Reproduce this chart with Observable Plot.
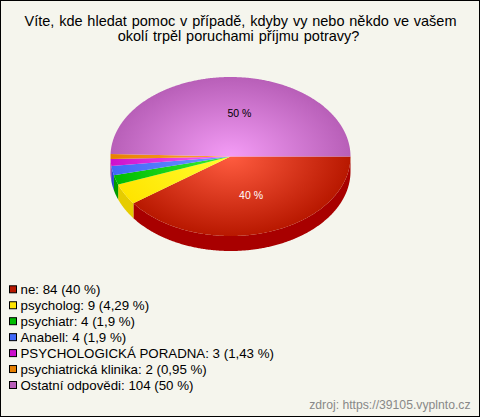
<!DOCTYPE html>
<html><head><meta charset="utf-8">
<script src="https://cdn.jsdelivr.net/npm/d3@7"></script>
<script src="https://cdn.jsdelivr.net/npm/@observablehq/plot@0.6"></script>
<style>html,body{margin:0;padding:0;background:#f5f5ed}svg{display:block}.ttl text{word-spacing:0.8px}</style>
</head><body><div id="chart"></div>
<script>
const categories = ["ne","psycholog","psychiatr","Anabell","PSYCHOLOGICKÁ PORADNA","psychiatrická klinika","Ostatní odpovědi"];
const counts = [84,9,4,4,3,2,104];
const percents = ["40","4,29","1,9","1,9","1,43","0,95","50"];
const faceOuter = ["#b81800","#ffe400","#00bc00","#4068f8","#cc10cc","#e88000","#b85fb8"];
const faceInner = ["#ff5c40","#ffff30","#38f038","#7098ff","#f868f8","#ffa838","#f49cf6"];
const sideColors = ["#a80000","#e6cc00","#009c00","#2848d0","#a000a0","#c06000","#8a4a8a"];
const titleLines = ["Víte, kde hledat pomoc v případě, kdyby vy nebo někdo ve vašem","okolí trpěl poruchami příjmu potravy?"];
const sliceLabels = [{text:"40 %",slice:0},{text:"50 %",slice:6}];
const sourceText = "zdroj: https://39105.vyplnto.cz";

const W=480,H=417,cx=230,cy=156,rx=120,ry=79.5,depth=15;
const font="'Liberation Sans',Arial,sans-serif";
const total=d3.sum(counts);
let acc=0;
const slices=counts.map((v,i)=>{const a0=acc/total*2*Math.PI;acc+=v;return {i,a0,a1:acc/total*2*Math.PI,v};});
const px=a=>cx+rx*Math.cos(a), py=a=>cy+ry*Math.sin(a);
const arcAngles=(a0,a1)=>{const n=Math.max(2,Math.ceil((a1-a0)*120));return d3.range(n+1).map(k=>a0+(a1-a0)*k/n);};
const facePts=s=>[{x:cx,y:cy},...arcAngles(s.a0,s.a1).map(a=>({x:px(a),y:py(a)}))];
const sidePts=s=>{const a1=Math.min(s.a1,Math.PI);if(s.a0>=a1)return null;const A=arcAngles(s.a0,a1);
  return [...A.map(a=>({x:px(a),y:py(a)})),...A.slice().reverse().map(a=>({x:px(a),y:py(a)+depth}))];};

const defs=(index,{x,y})=>{
  const d=d3.create("svg:defs");
  faceOuter.forEach((c,i)=>{
    const g=d.append("radialGradient").attr("id","g"+i).attr("gradientUnits","userSpaceOnUse")
      .attr("cx",0).attr("cy",0).attr("r",1)
      .attr("gradientTransform",`translate(${x(cx)},${y(cy)}) scale(${rx},${ry})`);
    g.append("stop").attr("offset",0).attr("stop-color",faceInner[i]);
    g.append("stop").attr("offset",1).attr("stop-color",c);
  });
  return d.node();
};

const marks=[defs];
slices.forEach(s=>{const p=sidePts(s);if(p)marks.push(Plot.line(p,{x:"x",y:"y",fill:sideColors[s.i],stroke:"none"}));});
slices.forEach(s=>marks.push(Plot.line(facePts(s),{x:"x",y:"y",fill:`url(#g${s.i})`,stroke:"none"})));
const mid=s=>(s.a0+s.a1)/2;
marks.push(Plot.text(sliceLabels,{
  x:d=>cx+rx*0.5*Math.cos(mid(slices[d.slice]))+(d.slice?8:2),
  y:d=>cy+ry*0.5*Math.sin(mid(slices[d.slice]))+(d.slice?-3:1),
  text:"text",fill:d=>d.slice?"#000":"#fff",fontSize:10.5,fontFamily:font}));
marks.push(Plot.text(titleLines,{x:(d,i)=>i?238:240,y:(d,i)=>20.7+i*15,text:d=>d,fontSize:14.5,fontFamily:font,fill:"#000",className:"ttl"}));
const rows=categories.map((c,i)=>({c,i,t:`${c}: ${counts[i]} (${percents[i]} %)`}));
const rowY=d=>289.3+d.i*15.95;
marks.push(Plot.rect(rows,{x1:()=>9.5,x2:()=>16.5,y1:d=>rowY(d)-3.5,y2:d=>rowY(d)+3.5,fill:d=>faceOuter[d.i],stroke:"#000",strokeWidth:1}));
marks.push(Plot.text(rows,{x:()=>20,y:rowY,text:"t",textAnchor:"start",fontSize:13.3,fontFamily:font,fill:"#000"}));
marks.push(Plot.text([sourceText],{x:()=>470,y:()=>405,text:d=>d,textAnchor:"end",fontSize:12.2,fontFamily:font,fill:"#888"}));
marks.push(Plot.frame({stroke:"#000",strokeWidth:1,insetRight:1,insetBottom:1}));

document.getElementById("chart").append(Plot.plot({
  width:W,height:H,marginTop:0,marginRight:0,marginBottom:0,marginLeft:0,
  x:{domain:[0,W],range:[0,W],axis:null},
  y:{domain:[0,H],range:[0,H],axis:null},
  color:{type:"identity"},
  style:{background:"#f5f5ed",overflow:"visible"},
  marks
}));
</script></body></html>
